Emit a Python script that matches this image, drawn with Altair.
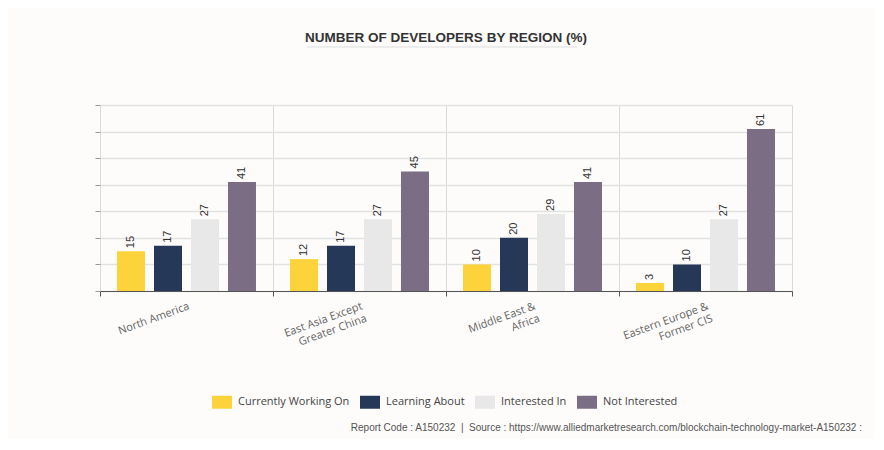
import altair as alt
import pandas as pd

regions = ["North America", "East Asia Except|Greater China", "Middle East &|Africa", "Eastern Europe &|Former CIS"]
series = ["Currently Working On", "Learning About", "Interested In", "Not Interested"]
colors = ["#fdd33b", "#253858", "#e8e8e8", "#7b6d84"]
values = {
    "Currently Working On": [15, 12, 10, 3],
    "Learning About": [17, 17, 20, 10],
    "Interested In": [27, 27, 29, 27],
    "Not Interested": [41, 45, 41, 61],
}
y_ticks = [0, 10, 20, 30, 40, 50, 60, 70]
title_text = "NUMBER OF DEVELOPERS BY REGION (%)"
source_text = "Report Code : A150232\u00a0\u00a0|\u00a0\u00a0Source : https://www.alliedmarketresearch.com/blockchain-technology-market-A150232 :"

rows = []
for s in series:
    for r, v in zip(regions, values[s]):
        rows.append({"Region": r, "Series": s, "Value": v})
df = pd.DataFrame(rows)

W, H = 692, 186

base = alt.Chart(df)

x_enc = alt.X(
    "Region:N",
    sort=regions,
    scale=alt.Scale(paddingInner=0, paddingOuter=0),
    axis=alt.Axis(
        title=None,
        tickBand="extent",
        grid=True,
        gridColor="#d9d9d9",
        gridWidth=1,
        domainColor="#555555",
        tickColor="#555555",
        tickSize=5,
        labelAngle=340,
        labelAlign="right",
        labelBaseline="top",
        labelPadding=4,
        labelFont="Open Sans",
        labelFontSize=11,
        labelColor="#666666",
        labelLineHeight=13,
        labelExpr="datum.value ? split(datum.value, '|') : ''",
    ),
)
y_enc = alt.Y(
    "Value:Q",
    scale=alt.Scale(domain=[0, 70], nice=False),
    axis=alt.Axis(
        title=None,
        values=y_ticks,
        tickCount=8,
        labels=False,
        domain=False,
        tickColor="#999999",
        tickSize=5,
        gridColor="#e2e2e2",
        gridWidth=1.5,
    ),
)
xoff = alt.XOffset(
    "Series:N",
    sort=series,
    scale=alt.Scale(paddingInner=0.243, paddingOuter=0.46),
)
color_enc = alt.Color(
    "Series:N",
    sort=series,
    scale=alt.Scale(domain=series, range=colors),
    legend=alt.Legend(
        title=None,
        orient="none",
        legendX=112,
        legendY=287,
        direction="horizontal",
        columns=4,
        columnPadding=10,
        symbolType="M-1,-0.65 L1,-0.65 L1,0.65 L-1,0.65 Z",
        symbolSize=400,
        symbolStrokeWidth=0,
        labelFont="Open Sans",
        labelFontSize=11,
        labelColor="#444444",
        labelOffset=6,
    ),
)

bars = base.mark_bar().encode(x=x_enc, y=y_enc, xOffset=xoff, color=color_enc)

labels = base.mark_text(
    angle=270, align="left", baseline="middle", dx=3,
    font="Liberation Sans", fontSize=11, color="#333333",
).encode(
    x=x_enc,
    y=y_enc,
    xOffset=xoff,
    text="Value:Q",
)

underline = alt.Chart(pd.DataFrame({"a": [0]})).mark_rule(color="#dddddd", strokeWidth=1).encode(
    x=alt.value(207), x2=alt.value(477), y=alt.value(-58)
)

source = alt.Chart(pd.DataFrame({"t": [source_text]})).mark_text(
    align="right", baseline="middle", font="Liberation Sans", fontSize=10, color="#555555"
).encode(x=alt.value(762), y=alt.value(323), text="t:N")

chart = alt.layer(bars, labels, underline, source).properties(
    width=W,
    height=H,
    title=alt.TitleParams(
        title_text, font="Liberation Sans", fontSize=13.5, fontWeight="bold",
        color="#333333", anchor="middle", offset=2,
    ),
    background="#fdfcfb",
    autosize=alt.AutoSizeParams(type="none"),
    padding={"left": 92, "top": 97, "right": 82, "bottom": 148},
).configure_view(stroke=None)

chart.save("out.html", embed_options={"renderer": "svg", "actions": False})
